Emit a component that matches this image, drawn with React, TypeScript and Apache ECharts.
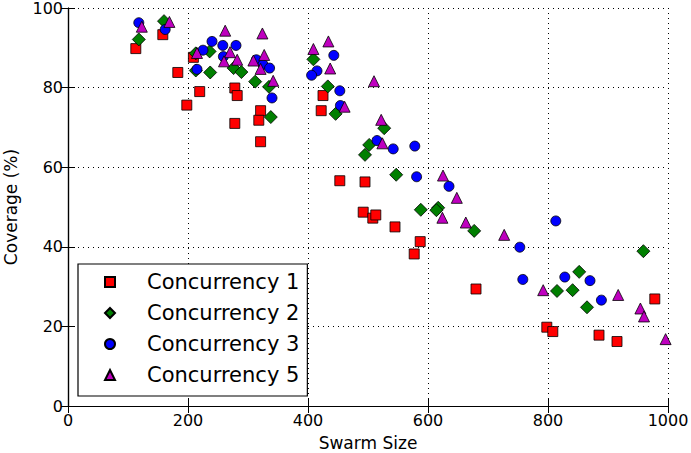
import React, { useEffect, useRef } from "react";
import * as echarts from "echarts";

const seriesNames = ["Concurrency 1", "Concurrency 2", "Concurrency 3", "Concurrency 5"];

const c1X = [113, 158, 183, 209, 219.5, 198, 278, 282, 278, 321, 318, 321, 425, 422, 453, 495, 492, 508, 513, 545, 587, 577, 680, 798, 808, 885, 915, 978];
const c1Y = [89.8, 93.3, 83.8, 87.6, 79.0, 75.6, 79.9, 78.0, 71.0, 74.2, 71.8, 66.4, 78.0, 74.2, 56.6, 56.3, 48.7, 47.2, 48.0, 45.0, 41.3, 38.2, 29.4, 19.8, 18.7, 17.8, 16.2, 26.9];

const c2X = [118, 160, 213, 236, 213, 237, 276, 289, 312, 335, 338, 409, 433, 446, 527, 502, 495, 547, 588, 617, 614, 677, 815, 841, 852, 865, 959];
const c2Y = [92.1, 96.7, 88.6, 89.1, 84.3, 83.8, 84.9, 83.9, 81.5, 80.2, 72.6, 87.1, 80.3, 73.4, 69.8, 65.6, 63.1, 58.1, 49.3, 49.8, 49.2, 44.0, 28.9, 29.1, 33.7, 24.8, 38.9];

const c3X = [118, 162, 225, 240, 258, 280, 259, 215, 314, 325, 336, 340, 443, 415, 406, 453, 454, 515, 542, 578, 581, 635, 753, 813, 758, 828, 870, 889];
const c3Y = [96.3, 94.6, 89.4, 91.6, 90.6, 90.6, 87.8, 84.6, 87.0, 85.8, 84.9, 77.4, 88.1, 84.2, 83.1, 79.2, 75.5, 66.7, 64.6, 65.3, 57.6, 55.2, 39.9, 46.5, 31.8, 32.4, 31.5, 26.6];

const c5X = [123, 169, 215, 262, 270, 282, 260, 324, 327, 309, 321, 342, 409, 434, 437, 461, 510, 522, 524, 625, 648, 624, 663, 727, 792, 917, 954, 960, 996];
const c5Y = [95.3, 96.5, 88.7, 94.3, 88.9, 87.0, 86.6, 93.6, 88.2, 86.8, 84.7, 81.7, 89.7, 91.6, 84.8, 75.2, 81.6, 71.9, 66.0, 57.9, 52.3, 47.3, 46.1, 43.0, 29.1, 27.9, 24.5, 22.5, 16.8];

const xTicks = [0, 200, 400, 600, 800, 1000];
const yTicks = [0, 20, 40, 60, 80, 100];

const FONT = "DejaVu Sans";

function pairs(xs: number[], ys: number[]) {
  return xs.map((x, i) => [x, ys[i]]);
}

export default function App() {
  const ref = useRef<HTMLDivElement>(null);
  useEffect(() => {
    document.body.style.margin = "0";
    const chart = echarts.init(ref.current!, null, { renderer: "svg" });
    const xMin = xTicks[0];
    const xMax = xTicks[xTicks.length - 1];
    const xInt = xTicks[1] - xTicks[0];
    const yMin = yTicks[0];
    const yMax = yTicks[yTicks.length - 1];
    const yInt = yTicks[1] - yTicks[0];
    const axisCommon = {
      axisLine: { show: true, lineStyle: { color: "#000", width: 1.2 } },
      axisTick: { show: true, inside: true, length: 7, lineStyle: { color: "#000", width: 1 } },
    };
    const plain = (v: number) => String(v);
    const mkSeries = (name: string, data: number[][], symbol: string, size: number, color: string) => ({
      name,
      type: "scatter",
      data,
      symbol,
      symbolSize: size,
      xAxisIndex: 0,
      yAxisIndex: 0,
      itemStyle: { color, borderColor: "#000", borderWidth: 0.8, opacity: 1 },
      emphasis: { disabled: true },
    });
    chart.setOption({
      animation: false,
      grid: { left: 68, top: 8, right: 23, bottom: 47, containLabel: false, outerBoundsMode: "none" },
      xAxis: [
        {
          type: "value",
          min: xMin,
          max: xMax,
          interval: xInt,
          position: "bottom",
          name: "Swarm Size",
          nameLocation: "middle",
          nameGap: 28,
          nameTextStyle: { fontFamily: FONT, fontSize: 17, color: "#000" },
          axisLabel: { fontFamily: FONT, fontSize: 16, color: "#000", margin: 6, formatter: plain },
          splitLine: { show: true, lineStyle: { color: "#000", type: [1, 4], width: 1 } },
          ...axisCommon,
        },
        {
          type: "value",
          min: xMin,
          max: xMax,
          interval: xInt,
          position: "top",
          axisLabel: { show: false },
          splitLine: { show: false },
          ...axisCommon,
        },
      ],
      yAxis: [
        {
          type: "value",
          min: yMin,
          max: yMax,
          interval: yInt,
          position: "left",
          name: "Coverage (%)",
          nameLocation: "middle",
          nameGap: 49,
          nameTextStyle: { fontFamily: FONT, fontSize: 17, color: "#000" },
          axisLabel: { fontFamily: FONT, fontSize: 16, color: "#000", margin: 5, formatter: plain },
          splitLine: { show: true, lineStyle: { color: "#000", type: [1, 4], width: 1 } },
          ...axisCommon,
        },
        {
          type: "value",
          min: yMin,
          max: yMax,
          interval: yInt,
          position: "right",
          axisLabel: { show: false },
          splitLine: { show: false },
          ...axisCommon,
        },
      ],
      legend: {
        orient: "vertical",
        left: 78,
        top: 264,
        padding: [6, 8, 9, 26],
        itemWidth: 10,
        itemHeight: 10,
        itemGap: 7,
        selectedMode: false,
        borderColor: "#000",
        borderWidth: 1.2,
        backgroundColor: "#fff",
        borderRadius: 0,
        textStyle: { fontFamily: FONT, fontSize: 21, color: "#000", lineHeight: 24, padding: [0, 0, 0, 27] },
        data: seriesNames,
      },
      series: [
        mkSeries(seriesNames[0], pairs(c1X, c1Y), "rect", 10, "#ff0000"),
        mkSeries(seriesNames[1], pairs(c2X, c2Y), "diamond", 13, "#007f00"),
        mkSeries(seriesNames[2], pairs(c3X, c3Y), "circle", 10, "#0000ff"),
        mkSeries(seriesNames[3], pairs(c5X, c5Y), "triangle", 11, "#bf00bf"),
      ],
    });
    return () => chart.dispose();
  }, []);
  return <div ref={ref} style={{ position: "absolute", left: 0, top: 0, width: 691, height: 453 }} />;
}
